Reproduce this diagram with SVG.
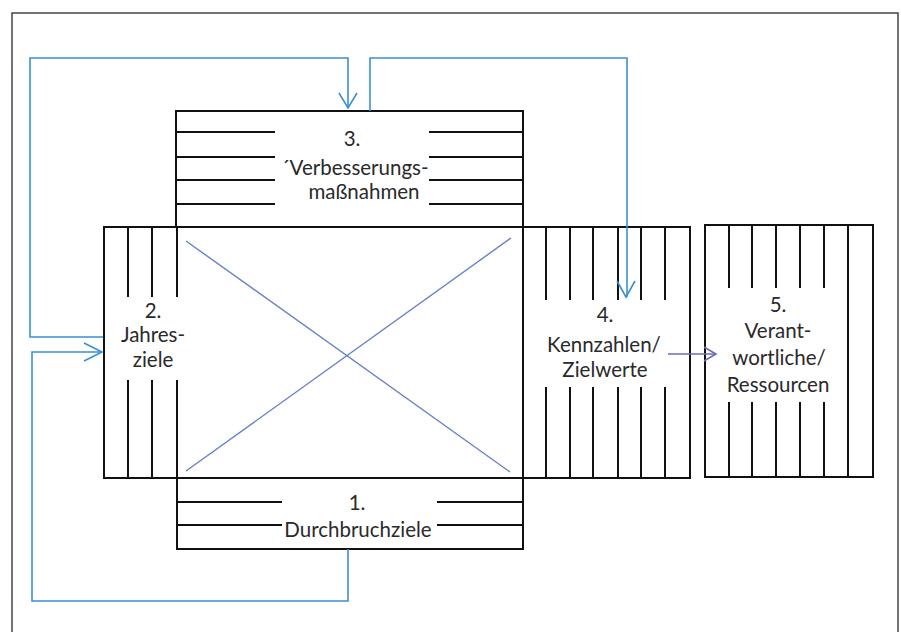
<svg xmlns="http://www.w3.org/2000/svg" width="901" height="632" viewBox="0 0 901 632">
<style>
.box{fill:none;stroke:#111;stroke-width:2}
.ln{fill:none;stroke:#111;stroke-width:2}
.conn{fill:none;stroke:#3a90d4;stroke-width:1.6}
.conn2{fill:none;stroke:#6a6ab8;stroke-width:1.5}
.xl{stroke:#6a80c4;stroke-width:1.4}
.ah{fill:none;stroke:#3a90d4;stroke-width:1.6}
.ah2{fill:none;stroke:#6a6ab8;stroke-width:1.5}
text{font-family:Lato,"Liberation Sans",sans-serif;font-size:20.5px;fill:#2a2a2a;text-anchor:middle}
</style>
<rect x="0" y="0" width="901" height="632" fill="#fff"/>
<rect x="12" y="13" width="886" height="640" fill="none" stroke="#444" stroke-width="1.5"/>

<g id="node-center">
<path class="ln" d="M177 227H523M177 478H523"/>
<line class="xl" x1="186" y1="241" x2="510" y2="472"/>
<line class="xl" x1="186" y1="471" x2="511" y2="238"/>
</g>

<g id="node-3">
<rect class="box" x="176" y="111" width="347" height="116"/>
<path class="ln" d="M176 132H275M176 157H275M176 180H275M176 204H275M429 132H523M429 157H523M429 180H523M429 204H523"/>
<text x="352" y="146">3.</text>
<text x="355" y="175">´Verbesserungs-</text>
<text x="364" y="199">maßnahmen</text>
</g>

<g id="node-2">
<path class="ln" d="M104 227H177M104 478H177M104 226V479"/>
<path class="ln" d="M128 227V297M152 227V297M177 227V297M128 380V478M152 380V478M177 380V478"/>
<text x="153" y="318">2.</text>
<text x="153" y="342">Jahres-</text>
<text x="153" y="367">ziele</text>
</g>

<g id="node-4">
<path class="ln" d="M523 227H690V478H523M523 111V549"/>
<path class="ln" d="M546 227V300M570 227V300M593 227V300M618 227V300M641 227V300M665 227V300M546 387V478M570 387V478M593 387V478M618 387V478M641 387V478M665 387V478"/>
<text x="605" y="322">4.</text>
<text x="604" y="352">Kennzahlen/</text>
<text x="605" y="377">Zielwerte</text>
</g>

<g id="node-5">
<rect class="box" x="705" y="225" width="168" height="252"/>
<path class="ln" d="M729 225V288M752 225V288M776 225V288M800 225V288M824 225V288M729 402V477M752 402V477M776 402V477M800 402V477M824 402V477M848 225V477"/>
<text x="778" y="312">5.</text>
<text x="778" y="338">Verant-</text>
<text x="779" y="365">wortliche/</text>
<text x="778" y="392">Ressourcen</text>
</g>

<g id="node-1">
<rect class="box" x="177" y="478" width="346" height="71"/>
<path class="ln" d="M177 502H282M177 525H282M437 502H523M437 525H523"/>
<text x="357" y="510">1.</text>
<text x="358" y="537">Durchbruchziele</text>
</g>

<g id="connectors">
<path class="conn" d="M103 337H30V58H348V108"/>
<path class="ah" d="M339 93L348 108L357 93"/>
<path class="conn" d="M370 111V58H627V297"/>
<path class="ah" d="M617 281L626 297L635 281"/>
<path class="conn" d="M348 549V601H32V352H102"/>
<path class="ah" d="M84 343L102 352L84 361"/>
<path class="conn2" d="M668 354H716"/>
<path class="ah2" d="M704 347L716 354L704 361"/>
</g>
</svg>
